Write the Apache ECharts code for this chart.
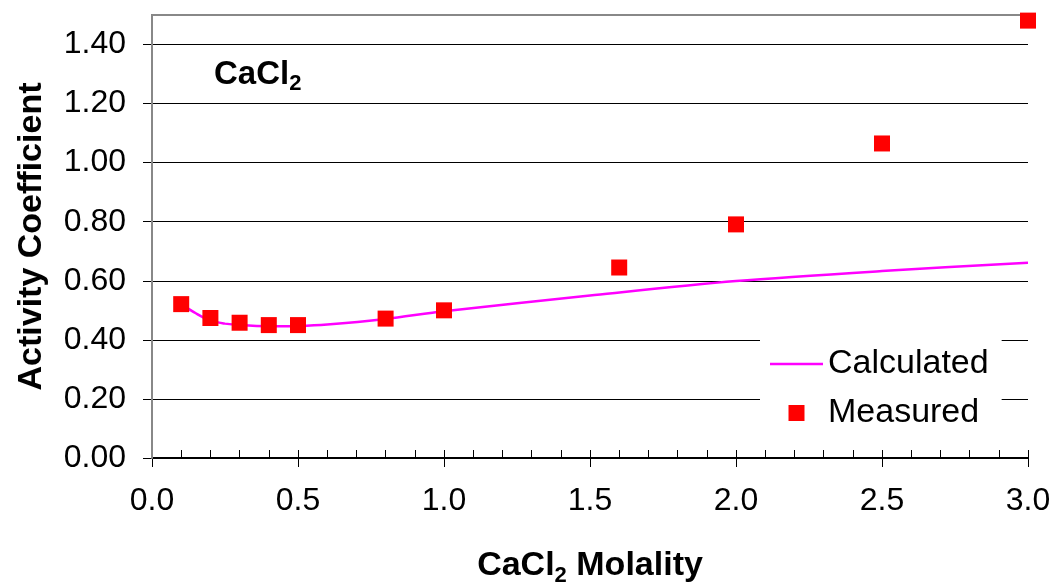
<!DOCTYPE html>
<html><head><meta charset="utf-8">
<script src="https://cdn.jsdelivr.net/npm/echarts@6/dist/echarts.min.js"></script>
<style>html,body{margin:0;padding:0;background:#fff}#c{width:1055px;height:584px}</style>
</head><body><div id="c"></div>
<script>
// Calculated curve
const calcX = [0.1, 0.15, 0.2, 0.25, 0.3, 0.4, 0.5, 0.6, 0.8, 1.0, 1.5, 2.0, 2.5, 3.0];
const calcY = [0.521, 0.490, 0.465, 0.455, 0.450, 0.446, 0.447, 0.452, 0.471, 0.497, 0.550, 0.599, 0.633, 0.661];
// Measured points
const measX = [0.1, 0.2, 0.3, 0.4, 0.5, 0.8, 1.0, 1.6, 2.0, 2.5, 3.0];
const measY = [0.521, 0.474, 0.458, 0.450, 0.450, 0.472, 0.500, 0.645, 0.791, 1.065, 1.481];
// Ticks
const yTickVals = [0, 0.2, 0.4, 0.6, 0.8, 1.0, 1.2, 1.4];
const xTickVals = [0, 0.5, 1.0, 1.5, 2.0, 2.5, 3.0];

const FONT = "'Liberation Sans', Arial, sans-serif";
const chart = echarts.init(document.getElementById('c'), null, {renderer: 'canvas'});
function richName(size, sub) {
  return {
    a: {fontFamily: FONT, fontSize: size, fontWeight: 'bold', color: '#000', lineHeight: size + 8, verticalAlign: 'middle'},
    s: {fontFamily: FONT, fontSize: sub, fontWeight: 'bold', color: '#000', verticalAlign: 'bottom'}
  };
}
chart.setOption({
  animation: false,
  backgroundColor: '#fff',
  grid: {left: 152, right: 27, top: 15, bottom: 126, containLabel: false, outerBoundsMode: 'none'},
  title: {
    text: '{a|CaCl}{s|2}', left: 214, top: 54, padding: 0,
    textStyle: {rich: richName(33, 22)}
  },
  legend: {
    left: 760, top: 335, orient: 'vertical',
    padding: [12, 13, 12, 10],
    backgroundColor: '#fff',
    itemWidth: 53, itemHeight: 16, itemGap: 15,
    textStyle: {fontFamily: FONT, fontSize: 34, color: '#000', lineHeight: 34},
    data: [
      {name: 'Calculated', icon: 'path://M0,0H53V2.5H0Z', itemStyle: {color: '#FF00FF'}},
      {name: 'Measured', icon: 'path://M0,0H10V10H0Z', itemStyle: {color: '#FF0000', opacity: 1}}
    ]
  },
  xAxis: [
    {
      type: 'value', min: 0, max: 3, interval: 0.5, position: 'bottom',
      name: '{a|CaCl}{s|2}{a| Molality}', nameLocation: 'middle', nameGap: 87,
      nameTextStyle: {rich: richName(34, 22)},
      axisLine: {show: true, lineStyle: {color: '#000', width: 2}},
      axisTick: {show: true, inside: false, length: 9, customValues: xTickVals, lineStyle: {color: '#000', width: 1}},
      axisLabel: {show: true, margin: 27, fontFamily: FONT, fontSize: 32, color: '#000',
        customValues: xTickVals, formatter: v => v.toFixed(1)},
      splitLine: {show: false}
    },
    {
      type: 'value', min: 0, max: 3, interval: 0.1, position: 'bottom',
      axisLine: {show: false},
      axisTick: {show: true, inside: true, length: 8, lineStyle: {color: '#000', width: 1}},
      axisLabel: {show: false}, splitLine: {show: false}
    },
    {
      type: 'value', min: 0, max: 3, position: 'top', z: 5,
      axisLine: {show: true, lineStyle: {color: '#888', width: 2}},
      axisTick: {show: false}, axisLabel: {show: false}, splitLine: {show: false}
    }
  ],
  yAxis: [
    {
      type: 'value', min: 0, max: 1.5, interval: 0.2,
      name: 'Activity Coefficient', nameLocation: 'middle', nameGap: 103,
      nameTextStyle: {fontFamily: FONT, fontSize: 34, fontWeight: 'bold', color: '#000', lineHeight: 34},
      axisLine: {show: true, lineStyle: {color: '#222', width: 2}},
      axisTick: {show: true, inside: false, length: 9, customValues: yTickVals, lineStyle: {color: '#000', width: 1}},
      axisLabel: {show: true, margin: 26, fontFamily: FONT, fontSize: 32, color: '#000',
        customValues: yTickVals, formatter: v => v.toFixed(2)},
      splitLine: {show: true, lineStyle: {color: '#000', width: 1}}
    },
    {
      type: 'value', min: 0, max: 1.5, position: 'right', z: 5,
      axisLine: {show: true, lineStyle: {color: '#888', width: 2}},
      axisTick: {show: false}, axisLabel: {show: false}, splitLine: {show: false}
    }
  ],
  series: [
    {
      name: 'Calculated', type: 'line', xAxisIndex: 0, yAxisIndex: 0,
      data: calcX.map((x, i) => [x, calcY[i]]),
      symbol: 'none', smooth: 0.3, z: 3,
      lineStyle: {color: '#FF00FF', width: 2.5}, itemStyle: {color: '#FF00FF'}
    },
    {
      name: 'Measured', type: 'scatter', xAxisIndex: 0, yAxisIndex: 0,
      data: measX.map((x, i) => [x, measY[i]]),
      symbol: 'rect', symbolSize: 16, z: 6,
      itemStyle: {color: '#FF0000', opacity: 1}
    }
  ]
});
</script></body></html>
